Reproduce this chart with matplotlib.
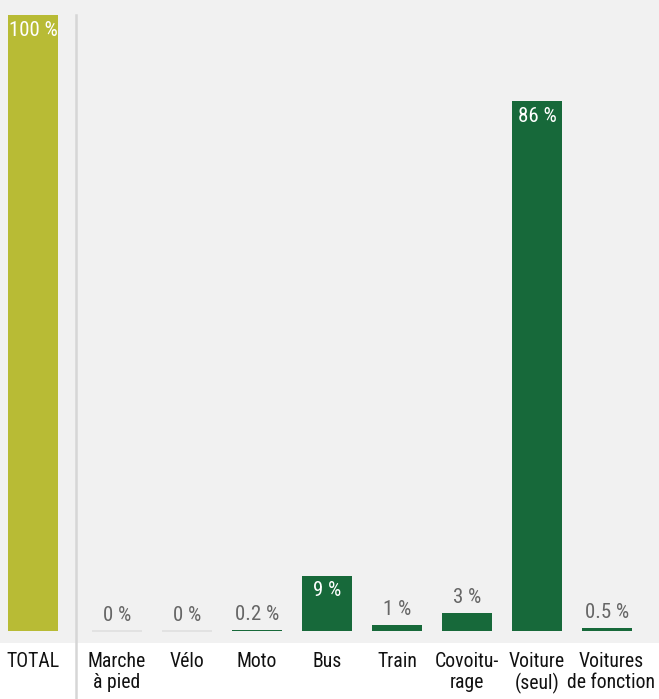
import matplotlib
matplotlib.use("Agg")
import matplotlib.pyplot as plt
from matplotlib.lines import Line2D
from matplotlib import font_manager

categories = ["TOTAL", "Marche\nà pied", "Vélo", "Moto", "Bus", "Train",
              "Covoitu-\nrage", "Voiture\n(seul)", "Voitures\nde fonction"]
values = [100, 0, 0, 0.2, 9, 1, 3, 86, 0.5]
value_labels = ["100 %", "0 %", "0 %", "0.2 %", "9 %", "1 %", "3 %", "86 %", "0.5 %"]
positions = [-0.2, 1, 2, 3, 4, 5, 6, 7, 8]

# look for a condensed face
cond = None
stretch = "normal"
fams = {}
for f in font_manager.fontManager.ttflist:
    fams.setdefault(f.name, set()).add(str(f.stretch))
for name in ["Roboto Condensed", "Liberation Sans Narrow", "Open Sans Condensed",
             "Noto Sans Condensed", "DejaVu Sans Condensed"]:
    if name in fams:
        cond = name
        break
if cond is None:
    for name in ["Roboto", "Open Sans", "Noto Sans", "DejaVu Sans", "Lato", "Inter"]:
        st = fams.get(name, set())
        if any(s in ("condensed", "semi-condensed", "extra-condensed", "75", "87", "62", "50")
               or s.isdigit() and int(s) < 100 for s in st):
            cond = name
            stretch = "condensed"
            break
if cond is None:
    cond = "Roboto"
    scale = 0.8
else:
    scale = 1.0

plt.rcParams["font.family"] = [cond, "DejaVu Sans"]
plt.rcParams["font.stretch"] = stretch

olive = "#b8bb35"
green = "#17693a"

fig = plt.figure(figsize=(6.59, 6.99), dpi=100)
fig.patch.set_facecolor("white")
ax = fig.add_axes([0, 56 / 699, 1, 643 / 699])
ax.set_facecolor("#f1f1f1")
for s in ax.spines.values():
    s.set_visible(False)
ax.set_xticks([])
ax.set_yticks([])
ax.set_xlim(-0.671, 8.743)
ax.set_ylim(-1.95, 102.44)

colors = [olive] + [green] * (len(values) - 1)
ax.bar(positions, values, width=0.71, color=colors, linewidth=0, zorder=3)

for p, v in zip(positions, values):
    if v == 0:
        ax.hlines(0, p - 0.355, p + 0.355, color="#e0e0e0", lw=1.2, zorder=2)

vsize = 15 * scale
for p, v, lab in zip(positions, values, value_labels):
    if v >= 5:
        ax.annotate(lab, (p, v), xytext=(0, -4), textcoords="offset points",
                    ha="center", va="top", color="white", fontsize=vsize, zorder=4)
    else:
        ax.annotate(lab, (p, v), xytext=(0, 4), textcoords="offset points",
                    ha="center", va="bottom", color="#666666", fontsize=vsize, zorder=4)

csize = 14.2 * scale
for i, (p, c) in enumerate(zip(positions, categories)):
    dx = 3 if i == len(categories) - 1 else 0
    ax.annotate(c, (p, -0.014), xycoords=ax.get_xaxis_transform(),
                xytext=(dx, 0), textcoords="offset points", ha="center", va="top",
                fontsize=csize, color="#111111", linespacing=1.1, annotation_clip=False)

xdiv = 76 / 659
fig.add_artist(Line2D([xdiv, xdiv], [0, 1 - 15 / 699], transform=fig.transFigure,
                      color="#d6d6d6", lw=1.8))

fig.savefig("out.png", dpi=100, facecolor="white")
